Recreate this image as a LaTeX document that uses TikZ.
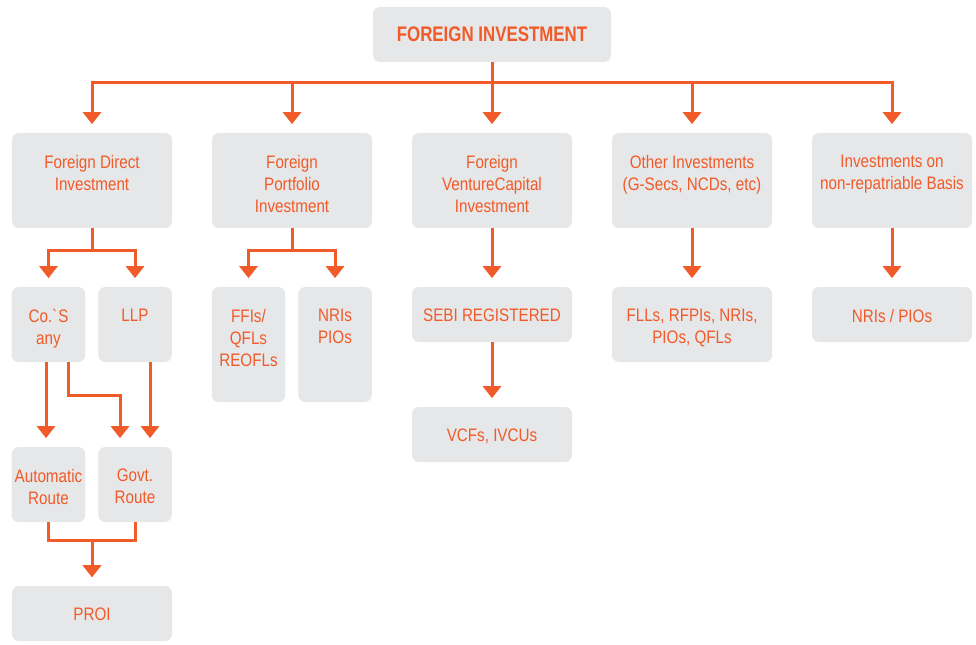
\documentclass[tikz,border=0pt]{standalone}
\usepackage{fontspec}
\setmainfont{Liberation Sans}
\newfontfamily\narrowsf[FakeStretch=0.84]{Liberation Sans}
\newfontfamily\headsf[FakeStretch=0.8]{Liberation Sans}
\usetikzlibrary{arrows.meta,positioning}
\definecolor{figO}{RGB}{241,90,41}
\definecolor{figGr}{RGB}{230,231,232}

\begin{document}
\begin{tikzpicture}[x=0.2mm,y=-0.2mm,
  box/.style={fill=figGr,rounded corners=1.4mm,inner sep=0pt,minimum width=32mm},
  sbox/.style={box,minimum width=14.7mm},
  lbl/.style={text=figO,align=center,inner sep=0pt,anchor=north,font=\narrowsf\fontsize{10.3}{12.5}\selectfont},
  conn/.style={draw=figO,line width=0.6mm,-{Triangle[width=3.6mm,length=2.4mm]},shorten >=1.7mm}]
\useasboundingbox (0,0) rectangle (976,645);
% boxes, centres in pixel units
\node[box,minimum width=47.6mm,minimum height=11mm] (fi) at (492,34.5) {};
\node[box,minimum height=19mm] (fdi) at (92,180.5) {};
\node[box,minimum height=19mm] (fpi) at (292,180.5) {};
\node[box,minimum height=19mm] (fvc) at (492,180.5) {};
\node[box,minimum height=19mm] (oth) at (692,180.5) {};
\node[box,minimum height=19mm] (nonrep) at (892,180.5) {};
\node[sbox,minimum height=15mm] (cos) at (48.5,324.5) {};
\node[sbox,minimum height=15mm] (llp) at (135,324.5) {};
\node[sbox,minimum height=23mm] (ffis) at (248.5,344.5) {};
\node[sbox,minimum height=23mm] (nris) at (335,344.5) {};
\node[box,minimum height=11mm] (sebi) at (492,314.5) {};
\node[box,minimum height=11mm] (vcf) at (492,434.5) {};
\node[box,minimum height=15mm] (flls) at (692,324.5) {};
\node[box,minimum height=11mm] (nrp) at (892,314.5) {};
\node[sbox,minimum height=15mm] (auto) at (48.5,484.5) {};
\node[sbox,minimum height=15mm] (govt) at (135,484.5) {};
\node[box,minimum height=11mm] (proi) at (92,613.5) {};
% texts, hung from the top of each box
\node[lbl,font=\headsf\bfseries\fontsize{12}{14}\selectfont,below=4mm of fi.north] (fi-t) {FOREIGN INVESTMENT};
\node[lbl,below=4.4mm of fdi.north] (fdi-t) {Foreign Direct\\Investment};
\node[lbl,below=4.4mm of fpi.north] (fpi-t) {Foreign\\Portfolio\\Investment};
\node[lbl,below=4.4mm of fvc.north] (fvc-t) {Foreign\\VentureCapital\\Investment};
\node[lbl,below=4.4mm of oth.north] (oth-t) {Other Investments\\(G-Secs, NCDs, etc)};
\node[lbl,below=4.4mm of nonrep.north] (nonrep-t) {Investments on\\non-repatriable Basis};
\node[lbl,below=4.4mm of cos.north] (cos-t) {Co.\textasciigrave S\\any};
\node[lbl,below=4.4mm of llp.north] (llp-t) {LLP};
\node[lbl,below=4.4mm of ffis.north] (ffis-t) {FFIs/\\QFLs\\REOFLs};
\node[lbl,below=4.4mm of nris.north] (nris-t) {NRIs\\PIOs};
\node[lbl,below=4.4mm of sebi.north] (sebi-t) {SEBI REGISTERED};
\node[lbl,below=4.4mm of vcf.north] (vcf-t) {VCFs, IVCUs};
\node[lbl,below=4.4mm of flls.north] (flls-t) {FLLs, RFPIs, NRIs,\\PIOs, QFLs};
\node[lbl,below=4.4mm of nrp.north] (nrp-t) {NRIs / PIOs};
\node[lbl,below=4.4mm of auto.north] (auto-t) {Automatic\\Route};
\node[lbl,below=4.4mm of govt.north] (govt-t) {Govt.\\Route};
\node[lbl,below=4.4mm of proi.north] (proi-t) {PROI};
% top level split
\foreach \b in {fdi,fpi,oth,nonrep}
  \draw[conn] (fi.south) -- ++(0,20) -| (\b.north);
\draw[conn] (fi.south) -- (fvc.north);
% second level
\draw[conn] (fdi.south) -- ++(0,22) -| (cos.north);
\draw[conn] (fdi.south) -- ++(0,22) -| (llp.north);
\draw[conn] (fpi.south) -- ++(0,22) -| (ffis.north);
\draw[conn] (fpi.south) -- ++(0,22) -| (nris.north);
\draw[conn] (fvc.south) -- (sebi.north);
\draw[conn] (sebi.south) -- (vcf.north);
\draw[conn] (oth.south) -- (flls.north);
\draw[conn] (nonrep.south) -- (nrp.north);
% routes and PROI
\draw[conn] ([xshift=-0.5mm]cos.south) -- ([xshift=-0.5mm]auto.north);
\draw[conn] ([xshift=3.9mm]cos.south) -- ++(0,33) -| ([xshift=-3mm]govt.north);
\draw[conn] ([xshift=3mm]llp.south) -- ([xshift=3mm]govt.north);
\draw[conn] (auto.south) -- ++(0,18) -| (proi.north);
\draw[conn] (govt.south) -- ++(0,18) -| (proi.north);
\end{tikzpicture}
\end{document}
